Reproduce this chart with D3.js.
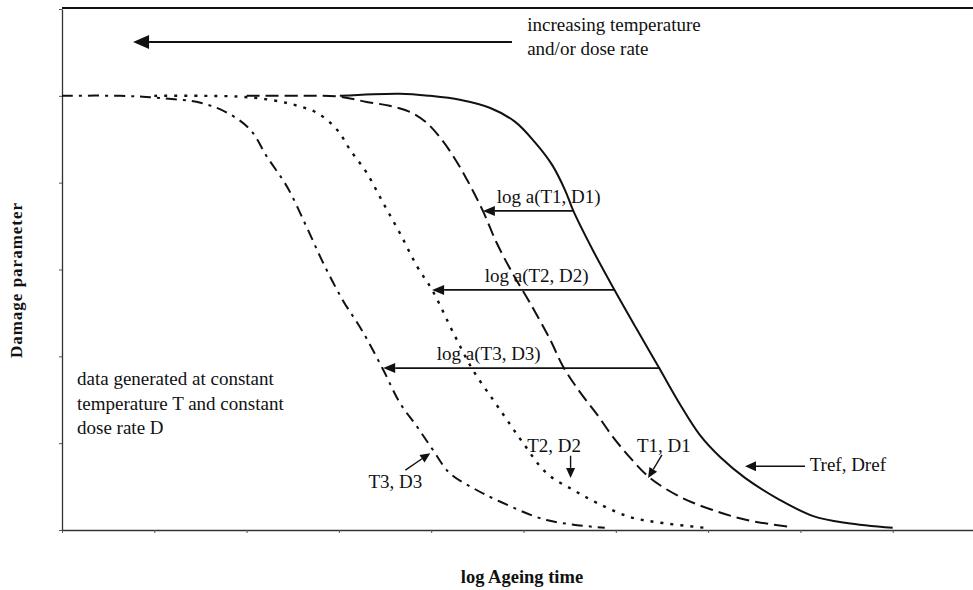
<!DOCTYPE html>
<html>
<head>
<meta charset="utf-8">
<script src="https://cdn.jsdelivr.net/npm/d3@7"></script>
<style>
  html, body { margin: 0; padding: 0; background: #fff; }
  svg { display: block; }
  text { font-family: "Liberation Serif", "Times New Roman", Times, serif; fill: #111; }
</style>
</head>
<body>
<svg id="chart" width="973" height="590"></svg>
<script>
// Master-curve construction: damage parameter vs log ageing time
// for the reference condition and three accelerated conditions.

// Reference condition (Tref, Dref) - solid
const trefTime   = [3.01, 3.66, 3.99, 4.31, 4.64, 4.91, 5.12, 5.31, 5.45, 5.54, 5.75, 5.98, 6.22, 6.47, 6.70, 6.91, 7.13, 7.40, 7.78, 8.14, 8.50, 9.00];
const trefDamage = [1.000, 1.005, 1.000, 0.991, 0.972, 0.940, 0.894, 0.841, 0.783, 0.735, 0.645, 0.555, 0.465, 0.373, 0.288, 0.219, 0.168, 0.120, 0.069, 0.032, 0.016, 0.005];

// Condition T1, D1 - dashed
const t1Time   = [2.00, 2.58, 3.01, 3.30, 3.55, 3.77, 3.95, 4.10, 4.23, 4.39, 4.56, 4.71, 4.89, 5.07, 5.29, 5.43, 5.61, 5.80, 5.97, 6.15, 6.37, 6.70, 7.05, 7.42, 7.89];
const t1Damage = [1.000, 1.000, 0.998, 0.986, 0.977, 0.963, 0.938, 0.903, 0.864, 0.806, 0.735, 0.661, 0.588, 0.523, 0.438, 0.376, 0.318, 0.265, 0.214, 0.168, 0.120, 0.076, 0.046, 0.023, 0.007];

// Condition T2, D2 - dotted
const t2Time   = [1.00, 1.50, 1.93, 2.25, 2.52, 2.76, 2.98, 3.12, 3.30, 3.48, 3.66, 3.85, 4.01, 4.24, 4.45, 4.67, 4.82, 4.99, 5.25, 5.54, 5.80, 6.15, 6.51, 6.97];
const t2Damage = [1.000, 1.000, 0.998, 0.991, 0.979, 0.961, 0.922, 0.876, 0.823, 0.753, 0.684, 0.606, 0.553, 0.454, 0.369, 0.300, 0.254, 0.202, 0.131, 0.092, 0.062, 0.030, 0.016, 0.005];

// Condition T3, D3 - dash-dot
const t3Time   = [0.00, 0.63, 1.06, 1.50, 1.79, 2.04, 2.22, 2.44, 2.65, 2.83, 3.04, 3.26, 3.48, 3.66, 3.85, 4.02, 4.20, 4.45, 4.75, 5.25, 5.88];
const t3Damage = [1.000, 1.000, 0.995, 0.984, 0.961, 0.922, 0.860, 0.790, 0.698, 0.615, 0.530, 0.456, 0.369, 0.293, 0.237, 0.184, 0.131, 0.097, 0.065, 0.023, 0.005];

// Shift factors: damage level where each shift is drawn, and its two ends in log time
const shiftLabels = ["log a(T1, D1)", "log a(T2, D2)", "log a(T3, D3)"];
const shiftLevel  = [0.735, 0.553, 0.373];
const shiftFrom   = [5.54, 5.99, 6.48];
const shiftTo     = [4.56, 4.01, 3.48];

// Axis ticks (unlabelled)
const xTicks = [0, 1, 2, 3, 4, 5, 6, 7, 8, 9, 10];
const yTicks = [0, 0.2, 0.4, 0.6, 0.8, 1.0, 1.2];

const W = 973, H = 590;
const svg = d3.select("#chart");
const ink = "#111";
const fs = 19;

const x = d3.scaleLinear().domain([0, 10]).range([62, 985]);
const y = d3.scaleLinear().domain([0, 1.2]).range([530, 9]);

// Axes
svg.append("g")
  .attr("transform", `translate(0,${y(0)})`)
  .call(d3.axisBottom(x).tickValues(xTicks).tickSize(3).tickSizeOuter(0).tickFormat(""))
  .call(g => g.select(".domain").attr("stroke", "#333").attr("stroke-width", 1.3))
  .call(g => g.selectAll(".tick line").attr("stroke", "#555"));

svg.append("g")
  .attr("transform", `translate(${x(0)},0)`)
  .call(d3.axisLeft(y).tickValues(yTicks).tickSize(3).tickSizeOuter(0).tickFormat(""))
  .call(g => g.select(".domain").attr("stroke", "#333").attr("stroke-width", 1.3))
  .call(g => g.selectAll(".tick line").attr("stroke", "#555"));

// Top frame line
svg.append("line")
  .attr("x1", x(0)).attr("x2", W)
  .attr("y1", y(1.2) - 1).attr("y2", y(1.2) - 1)
  .attr("stroke", ink).attr("stroke-width", 2);

// Curves
const line = d3.line()
  .x(d => x(d[0]))
  .y(d => y(d[1]))
  .curve(d3.curveCatmullRom.alpha(0.5));

const curves = [
  { t: trefTime, d: trefDamage, dash: null },
  { t: t1Time,   d: t1Damage,   dash: "13,6" },
  { t: t2Time,   d: t2Damage,   dash: "3,7" },
  { t: t3Time,   d: t3Damage,   dash: "11,6,3,6" }
];

svg.append("g").selectAll("path")
  .data(curves)
  .join("path")
  .attr("d", c => line(d3.zip(c.t, c.d)))
  .attr("fill", "none")
  .attr("stroke", ink)
  .attr("stroke-width", (c, i) => i === 2 ? 2.4 : 2)
  .attr("stroke-dasharray", c => c.dash);

// Arrow helper: line from (x1,y1) to tip (x2,y2) with a filled head
function arrow(g, x1, y1, x2, y2, headLen, headHalf, width) {
  const ang = Math.atan2(y2 - y1, x2 - x1);
  const bx = x2 - headLen * Math.cos(ang), by = y2 - headLen * Math.sin(ang);
  g.append("line")
    .attr("x1", x1).attr("y1", y1).attr("x2", bx).attr("y2", by)
    .attr("stroke", ink).attr("stroke-width", width);
  const px = -Math.sin(ang) * headHalf, py = Math.cos(ang) * headHalf;
  g.append("path")
    .attr("d", `M${x2},${y2}L${bx + px},${by + py}L${bx - px},${by - py}Z`)
    .attr("fill", ink);
}

const ann = svg.append("g");

// Direction of increasing temperature / dose rate
arrow(ann, x(4.875), y(1.124), x(0.77), y(1.124), 16, 7, 2);
ann.append("text").attr("x", x(5.04)).attr("y", 31).attr("font-size", fs).text("increasing temperature");
ann.append("text").attr("x", x(5.04)).attr("y", 55).attr("font-size", fs).text("and/or dose rate");

// Shift factor arrows
const shiftTextX = [4.71, 4.58, 4.06];
shiftLabels.forEach((lab, i) => {
  arrow(ann, x(shiftFrom[i]), y(shiftLevel[i]), x(shiftTo[i]), y(shiftLevel[i]), 12, 5, 1.8);
  ann.append("text")
    .attr("x", x(shiftTextX[i]))
    .attr("y", y(shiftLevel[i]) - 8)
    .attr("font-size", fs)
    .text(lab);
});

// Curve identifiers with pointers
ann.append("text").attr("x", x(8.10)).attr("y", y(0.136)).attr("font-size", fs).text("Tref, Dref");
arrow(ann, x(8.05), y(0.147), x(7.40), y(0.147), 11, 5, 1.4);

ann.append("text").attr("x", x(6.23)).attr("y", y(0.180)).attr("font-size", fs).text("T1, D1");
arrow(ann, x(6.50), y(0.173), x(6.35), y(0.120), 10, 4.5, 1.4);

ann.append("text").attr("x", x(5.04)).attr("y", y(0.180)).attr("font-size", fs).text("T2, D2");
arrow(ann, x(5.51), y(0.171), x(5.51), y(0.120), 10, 4.5, 1.4);

ann.append("text").attr("x", x(3.32)).attr("y", y(0.097)).attr("font-size", fs).text("T3, D3");
arrow(ann, x(3.72), y(0.138), x(3.99), y(0.177), 10, 4.5, 1.4);

// Note on how the data were generated
["data generated at constant", "temperature T and constant", "dose rate D"].forEach((s, i) => {
  ann.append("text")
    .attr("x", x(0.163))
    .attr("y", 385 + i * 24.5)
    .attr("font-size", fs)
    .text(s);
});

// Axis titles
svg.append("text")
  .attr("x", 522).attr("y", 583)
  .attr("text-anchor", "middle")
  .attr("font-size", 18.5).attr("font-weight", "bold")
  .text("log Ageing time");

svg.append("text")
  .attr("transform", "translate(22,280) rotate(-90)")
  .attr("text-anchor", "middle")
  .attr("font-size", 17).attr("font-weight", "bold")
  .attr("letter-spacing", 1)
  .text("Damage parameter");
</script>
</body>
</html>
